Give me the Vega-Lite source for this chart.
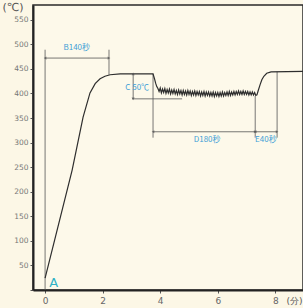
{
  "$schema": "https://vega.github.io/schema/vega-lite/v6.json",
  "autosize": "none",
  "padding": {"left": 33, "top": 5, "right": 0, "bottom": 18},
  "width": 270,
  "height": 285,
  "background": "#fcf7e6",
  "config": {
    "view": {"fill": "#fdf9ea", "stroke": "#2a2a2a", "strokeWidth": 1.5},
    "font": "DejaVu Sans",
    "axis": {"grid": false}
  },
  "datasets": {
    "curve": [
      {"t": 0, "v": 24}, {"t": 0.94, "v": 244}, {"t": 1.32, "v": 352}, {"t": 1.56, "v": 401},
      {"t": 1.74, "v": 420}, {"t": 1.91, "v": 430}, {"t": 2.08, "v": 435}, {"t": 2.26, "v": 438},
      {"t": 2.61, "v": 440}, {"t": 3.75, "v": 440},
      {"t": 3.80, "v": 430}, {"t": 3.84, "v": 421}, {"t": 3.88, "v": 414}, {"t": 3.92, "v": 410},
      {"t": 3.96, "v": 404}, {"t": 4.00, "v": 411}, {"t": 4.04, "v": 401}, {"t": 4.08, "v": 409},
      {"t": 4.12, "v": 402}, {"t": 4.16, "v": 410}, {"t": 4.20, "v": 400}, {"t": 4.24, "v": 408},
      {"t": 4.28, "v": 401}, {"t": 4.32, "v": 409}, {"t": 4.36, "v": 399}, {"t": 4.40, "v": 407},
      {"t": 4.44, "v": 400}, {"t": 4.48, "v": 408}, {"t": 4.52, "v": 399}, {"t": 4.56, "v": 406},
      {"t": 4.60, "v": 398}, {"t": 4.64, "v": 407}, {"t": 4.68, "v": 399}, {"t": 4.72, "v": 406},
      {"t": 4.76, "v": 397}, {"t": 4.80, "v": 406}, {"t": 4.84, "v": 398}, {"t": 4.88, "v": 405},
      {"t": 4.92, "v": 397}, {"t": 4.96, "v": 406}, {"t": 5.00, "v": 398}, {"t": 5.04, "v": 405},
      {"t": 5.08, "v": 396}, {"t": 5.12, "v": 404}, {"t": 5.16, "v": 397}, {"t": 5.20, "v": 405},
      {"t": 5.24, "v": 396}, {"t": 5.28, "v": 404}, {"t": 5.32, "v": 397}, {"t": 5.36, "v": 404},
      {"t": 5.40, "v": 395}, {"t": 5.44, "v": 403}, {"t": 5.48, "v": 396}, {"t": 5.52, "v": 404},
      {"t": 5.56, "v": 395}, {"t": 5.60, "v": 403}, {"t": 5.64, "v": 396}, {"t": 5.68, "v": 403},
      {"t": 5.72, "v": 395}, {"t": 5.76, "v": 402}, {"t": 5.80, "v": 395}, {"t": 5.84, "v": 403},
      {"t": 5.88, "v": 394}, {"t": 5.92, "v": 402}, {"t": 5.96, "v": 395}, {"t": 6.00, "v": 402},
      {"t": 6.04, "v": 394}, {"t": 6.08, "v": 402}, {"t": 6.12, "v": 395}, {"t": 6.16, "v": 403},
      {"t": 6.20, "v": 395}, {"t": 6.24, "v": 402}, {"t": 6.28, "v": 396}, {"t": 6.32, "v": 403},
      {"t": 6.36, "v": 396}, {"t": 6.40, "v": 404}, {"t": 6.44, "v": 396}, {"t": 6.48, "v": 403},
      {"t": 6.52, "v": 397}, {"t": 6.56, "v": 404}, {"t": 6.60, "v": 397}, {"t": 6.64, "v": 404},
      {"t": 6.68, "v": 398}, {"t": 6.72, "v": 405}, {"t": 6.76, "v": 398}, {"t": 6.80, "v": 404},
      {"t": 6.84, "v": 398}, {"t": 6.88, "v": 405}, {"t": 6.92, "v": 398}, {"t": 6.96, "v": 404},
      {"t": 7.00, "v": 398}, {"t": 7.04, "v": 404}, {"t": 7.08, "v": 397}, {"t": 7.12, "v": 403},
      {"t": 7.16, "v": 397}, {"t": 7.20, "v": 403}, {"t": 7.24, "v": 397}, {"t": 7.28, "v": 402},
      {"t": 7.32, "v": 396}, {"t": 7.36, "v": 397},
      {"t": 7.40, "v": 405}, {"t": 7.47, "v": 418}, {"t": 7.53, "v": 428}, {"t": 7.60, "v": 435},
      {"t": 7.70, "v": 441}, {"t": 7.85, "v": 444}, {"t": 8.96, "v": 445}
    ],
    "rules": [
      {"x": 0, "x2": 0, "y": 489, "y2": 0},
      {"x": 0, "x2": 2.22, "y": 472, "y2": 472},
      {"x": 2.22, "x2": 2.22, "y": 489, "y2": 438},
      {"x": 3.06, "x2": 3.06, "y": 440, "y2": 389},
      {"x": 3.02, "x2": 4.76, "y": 389, "y2": 389},
      {"x": 3.75, "x2": 3.75, "y": 440, "y2": 310},
      {"x": 3.75, "x2": 7.30, "y": 322, "y2": 322},
      {"x": 7.30, "x2": 7.30, "y": 395, "y2": 310},
      {"x": 7.30, "x2": 8.06, "y": 322, "y2": 322},
      {"x": 8.06, "x2": 8.06, "y": 444, "y2": 310}
    ],
    "harrows": [
      {"x1": 0, "x2": 2.22, "y": 472},
      {"x1": 3.75, "x2": 7.30, "y": 322},
      {"x1": 7.30, "x2": 8.06, "y": 322}
    ],
    "varrows": [
      {"x": 3.06, "ytop": 440, "ybot": 389}
    ],
    "labels": [
      {"x": 1.1, "y": 493, "label": "B140秒"},
      {"x": 3.2, "y": 411, "label": "C 50℃"},
      {"x": 5.63, "y": 305, "label": "D180秒"},
      {"x": 7.67, "y": 305, "label": "E40秒"}
    ],
    "big": [
      {"x": 0.3, "y": 15, "label": "A"}
    ]
  },
  "encoding": {
    "x": {"type": "quantitative", "scale": {"domain": [-0.42, 8.96], "nice": false, "zero": false},
      "axis": {"values": [0, 2, 4, 6, 8], "labelFontSize": 9, "labelColor": "#666666", "tickSize": 3, "tickColor": "#555555", "domainColor": "#222222", "domainWidth": 2, "labelPadding": 3,
        "title": "(分)", "titleFontSize": 9, "titleFontWeight": "normal", "titleColor": "#555555", "titleAnchor": "start", "titleAlign": "left", "titleBaseline": "middle", "titleX": 253, "titleY": 10}},
    "y": {"type": "quantitative", "scale": {"domain": [0, 580], "nice": false, "zero": false},
      "axis": {"tickCount": 12, "labelOverlap": false, "labelExpr": "datum.value == 0 ? '' : datum.label", "labelFontSize": 7.5, "labelColor": "#777777", "tickSize": 3, "tickColor": "#555555", "domainColor": "#222222", "domainWidth": 2, "labelPadding": 2,
        "title": "(℃)", "titleAngle": 0, "titleFontSize": 11, "titleFontWeight": "normal", "titleColor": "#555555", "titleAlign": "left", "titleBaseline": "alphabetic", "titleX": -31, "titleY": 5}}
  },
  "layer": [
    {
      "data": {"name": "rules"},
      "mark": {"type": "rule", "color": "#555555", "strokeWidth": 0.8},
      "encoding": {
        "x": {"field": "x", "type": "quantitative"},
        "x2": {"field": "x2"},
        "y": {"field": "y", "type": "quantitative"},
        "y2": {"field": "y2"}
      }
    },
    {
      "data": {"name": "curve"},
      "mark": {"type": "line", "color": "#2e2e2e", "strokeWidth": 1.2},
      "encoding": {
        "x": {"field": "t", "type": "quantitative"},
        "y": {"field": "v", "type": "quantitative"}
      }
    },
    {
      "data": {"name": "harrows"},
      "mark": {"type": "point", "shape": "triangle-left", "filled": true, "color": "#555555", "size": 10},
      "encoding": {"x": {"field": "x1", "type": "quantitative"}, "y": {"field": "y", "type": "quantitative"}}
    },
    {
      "data": {"name": "harrows"},
      "mark": {"type": "point", "shape": "triangle-right", "filled": true, "color": "#555555", "size": 10},
      "encoding": {"x": {"field": "x2", "type": "quantitative"}, "y": {"field": "y", "type": "quantitative"}}
    },
    {
      "data": {"name": "varrows"},
      "mark": {"type": "point", "shape": "triangle-up", "filled": true, "color": "#555555", "size": 10},
      "encoding": {"x": {"field": "x", "type": "quantitative"}, "y": {"field": "ytop", "type": "quantitative"}}
    },
    {
      "data": {"name": "varrows"},
      "mark": {"type": "point", "shape": "triangle-down", "filled": true, "color": "#555555", "size": 10},
      "encoding": {"x": {"field": "x", "type": "quantitative"}, "y": {"field": "ybot", "type": "quantitative"}}
    },
    {
      "data": {"name": "labels"},
      "mark": {"type": "text", "color": "#3f9fd6", "fontSize": 8, "font": "Noto Sans CJK SC", "align": "center", "baseline": "middle"},
      "encoding": {
        "x": {"field": "x", "type": "quantitative"},
        "y": {"field": "y", "type": "quantitative"},
        "text": {"field": "label"}
      }
    },
    {
      "data": {"name": "big"},
      "mark": {"type": "text", "color": "#2fb2c6", "fontSize": 13, "align": "center", "baseline": "middle"},
      "encoding": {
        "x": {"field": "x", "type": "quantitative"},
        "y": {"field": "y", "type": "quantitative"},
        "text": {"field": "label"}
      }
    }
  ]
}
